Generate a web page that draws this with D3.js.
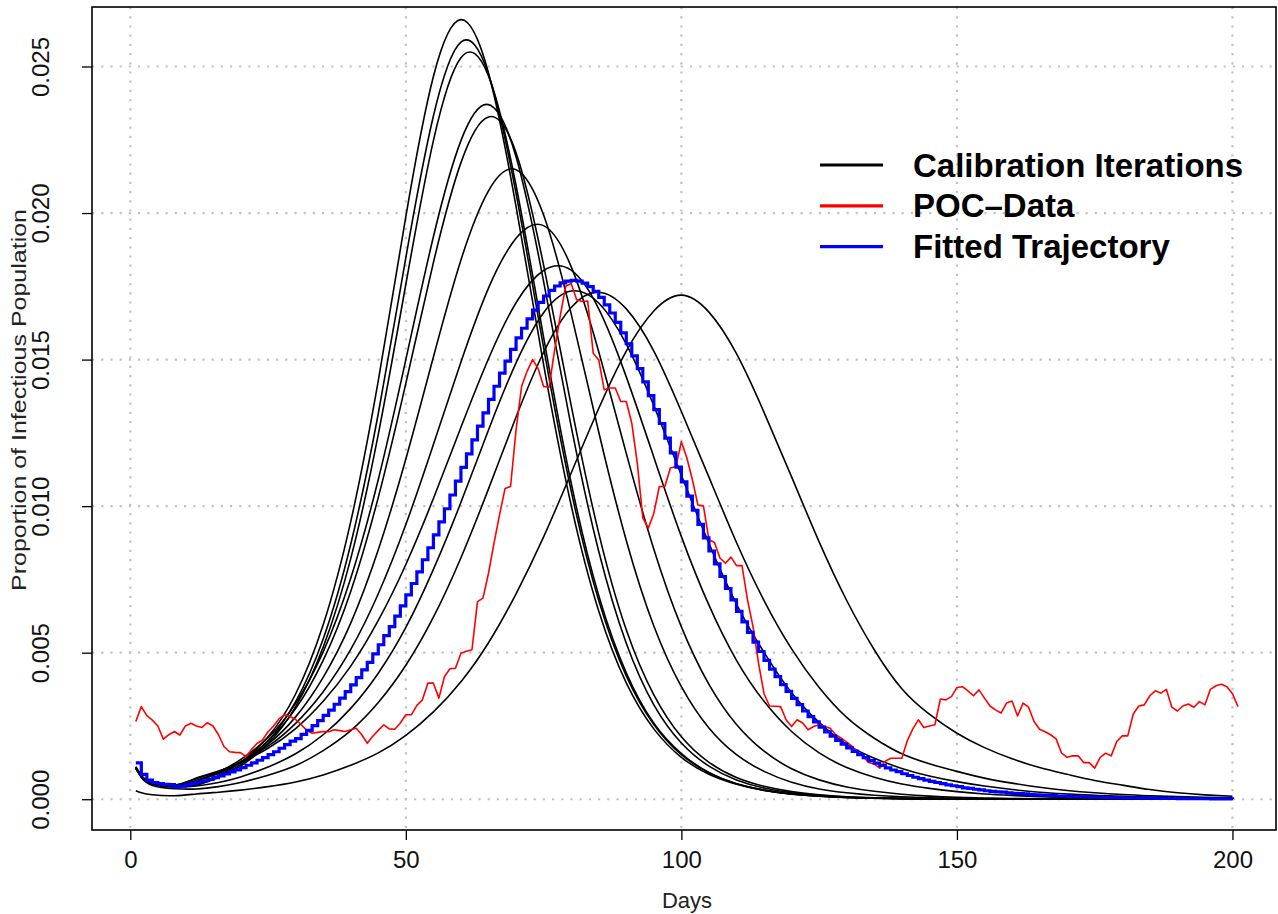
<!DOCTYPE html>
<html>
<head>
<meta charset="utf-8">
<script src="https://cdn.jsdelivr.net/npm/d3@7"></script>
<style>
  html, body { margin: 0; padding: 0; background: #fff; }
  svg text { font-family: "Liberation Sans", Arial, Helvetica, sans-serif; }
</style>
</head>
<body>
<svg id="chart" width="1278" height="914"></svg>
<script>
// All curve values are in thousandths of the population (0.001).

// ── Calibration iterations (black), sampled on a shared day grid ─────────────
const calibDays = [1, 2, 4, 8, 12, 16, 20,
                   25, 30, 35, 40, 45, 50, 55, 60, 65, 70, 75, 80, 85, 90, 95, 100, 105, 110, 115, 120, 125, 130,
                   135, 140, 145, 150, 155, 160, 165, 170, 175, 180, 185, 190, 195, 200];

const iter01 = [1.10, 0.80, 0.55, 0.44, 0.53, 0.81, 1.25,
                2.13, 3.59, 5.95, 9.47, 14.28, 19.88, 24.66, 26.60, 24.78, 20.22, 14.83, 10.03, 6.42, 3.97, 2.40, 1.43, 0.85, 0.51, 0.30, 0.17, 0.10, 0.06,
                0.035, 0.02, 0.012, 0.007, 0.004, 0.002, 0.0015, 0.001, 0.0005, 0, 0, 0, 0, 0];
const iter02 = [1.06, 0.78, 0.54, 0.44, 0.50, 0.77, 1.18,
                1.99, 3.33, 5.47, 8.70, 13.16, 18.48, 23.31, 25.83, 24.73, 20.67, 15.41, 10.52, 6.78, 4.21, 2.55, 1.52, 0.90, 0.53, 0.31, 0.18, 0.11, 0.06,
                0.035, 0.02, 0.012, 0.007, 0.004, 0.002, 0.0015, 0.001, 0.0005, 0, 0, 0, 0, 0];
const iter03 = [1.05, 0.77, 0.53, 0.44, 0.49, 0.74, 1.13,
                1.90, 3.16, 5.19, 8.21, 12.45, 17.57, 22.47, 25.30, 24.68, 20.94, 15.76, 10.79, 6.95, 4.31, 2.59, 1.56, 0.91, 0.53, 0.31, 0.18, 0.10, 0.06,
                0.035, 0.02, 0.012, 0.007, 0.004, 0.002, 0.0015, 0.001, 0.0005, 0, 0, 0, 0, 0];
const iter04 = [1.08, 0.79, 0.54, 0.44, 0.63, 0.93, 1.35,
                2.10, 3.27, 5.03, 7.54, 10.91, 15.00, 19.19, 22.47, 23.70, 21.92, 17.66, 12.72, 8.46, 5.32, 3.22, 1.92, 1.13, 0.66, 0.38, 0.22, 0.13, 0.074,
                0.043, 0.025, 0.015, 0.009, 0.005, 0.003, 0.002, 0.001, 0.0005, 0, 0, 0, 0, 0];
const iter05 = [1.07, 0.78, 0.54, 0.44, 0.61, 0.88, 1.26,
                1.99, 3.09, 4.74, 7.09, 10.30, 14.19, 18.31, 21.72, 23.28, 22.06, 18.22, 13.44, 9.08, 5.78, 3.56, 2.13, 1.26, 0.74, 0.44, 0.26, 0.15, 0.086,
                0.05, 0.03, 0.017, 0.01, 0.0055, 0.003, 0.002, 0.001, 0.0005, 0, 0, 0, 0, 0];
const iter06 = [1.09, 0.80, 0.55, 0.46, 0.64, 0.89, 1.25,
                1.88, 2.81, 4.16, 6.01, 8.51, 11.61, 15.09, 18.40, 20.76, 21.48, 19.93, 16.56, 12.53, 8.83, 5.91, 3.84, 2.43, 1.52, 0.95, 0.58, 0.35, 0.22,
                0.135, 0.082, 0.05, 0.03, 0.018, 0.011, 0.0065, 0.004, 0.0025, 0.0015, 0.001, 0.0005, 0.0003, 0];
const iter07 = [1.10, 0.80, 0.55, 0.47, 0.70, 0.94, 1.28,
                1.81, 2.59, 3.67, 5.11, 7.01, 9.37, 12.10, 14.92, 17.44, 19.14, 19.57, 18.17, 15.27, 11.80, 8.53, 5.88, 3.92, 2.55, 1.64, 1.04, 0.66, 0.42,
                0.27, 0.17, 0.105, 0.065, 0.04, 0.025, 0.016, 0.01, 0.0063, 0.004, 0.0025, 0.0015, 0.001, 0.0006];
const iter08 = [1.10, 0.80, 0.56, 0.48, 0.72, 0.96, 1.25,
                1.74, 2.41, 3.34, 4.54, 6.10, 8.01, 10.26, 12.69, 15.03, 16.94, 18.04, 18.05, 16.73, 14.41, 11.67, 8.96, 6.62, 4.74, 3.34, 2.31, 1.58, 1.08,
                0.75, 0.52, 0.37, 0.26, 0.18, 0.13, 0.09, 0.06, 0.042, 0.03, 0.021, 0.015, 0.01, 0.007];
const iter09 = [1.08, 0.78, 0.52, 0.42, 0.45, 0.57, 0.76,
                1.10, 1.55, 2.20, 3.10, 4.30, 5.86, 7.84, 10.13, 12.60, 14.89, 16.60, 17.34, 16.93, 15.53, 13.43, 11.05, 8.73, 6.66, 5.01, 3.63, 2.62, 1.87,
                1.40, 1.05, 0.79, 0.60, 0.45, 0.33, 0.24, 0.18, 0.13, 0.10, 0.07, 0.05, 0.04, 0.03];
const iter10 = [1.05, 0.74, 0.47, 0.36, 0.35, 0.43, 0.57,
                0.82, 1.15, 1.66, 2.34, 3.30, 4.57, 6.21, 8.24, 10.59, 13.04, 15.25, 16.78, 17.30, 16.73, 15.29, 13.23, 10.99, 8.76, 6.78, 5.13, 3.81, 2.79,
                2.08, 1.55, 1.21, 0.95, 0.72, 0.55, 0.41, 0.30, 0.22, 0.16, 0.12, 0.09, 0.065, 0.05];
const iter11 = [0.29, 0.22, 0.15, 0.12, 0.18, 0.24, 0.31,
                0.43, 0.59, 0.83, 1.16, 1.58, 2.18, 2.98, 4.01, 5.34, 7.01, 8.95, 11.13, 13.33, 15.29, 16.66, 17.20, 16.62, 15.20, 13.20, 11.00, 8.78, 6.78,
                5.10, 3.77, 2.90, 2.25, 1.76, 1.38, 1.08, 0.85, 0.64, 0.48, 0.33, 0.22, 0.15, 0.10];

const calibIterations = [iter01, iter02, iter03, iter04, iter05, iter06, iter07, iter08, iter09, iter10, iter11];

// ── Fitted trajectory (blue step line), one value per day, days 1..200 ───────
const fittedTrajectory = [
  1.24, 0.85, 0.65, 0.57, 0.53, 0.51, 0.50, 0.42, 0.45, 0.49,
  0.53, 0.58, 0.63, 0.68, 0.74, 0.80, 0.86, 0.93, 1.00, 1.08,
  1.16, 1.24, 1.33, 1.42, 1.52, 1.62, 1.74, 1.86, 1.98, 2.07,
  2.21, 2.35, 2.51, 2.68, 2.86, 3.04, 3.24, 3.45, 3.67, 3.90,
  4.15, 4.41, 4.67, 4.96, 5.27, 5.58, 5.89, 6.25, 6.60, 6.97,
  7.36, 7.76, 8.17, 8.58, 9.02, 9.46, 9.91, 10.38, 10.85, 11.32,
  11.78, 12.26, 12.73, 13.18, 13.64, 14.09, 14.54, 14.95, 15.35, 15.74,
  16.07, 16.39, 16.69, 16.95, 17.17, 17.36, 17.51, 17.62, 17.68, 17.70,
  17.68, 17.61, 17.49, 17.33, 17.12, 16.87, 16.59, 16.27, 15.91, 15.54,
  15.13, 14.69, 14.24, 13.77, 13.29, 12.82, 12.32, 11.82, 11.33, 10.83,
  10.34, 9.86, 9.38, 8.92, 8.47, 8.03, 7.60, 7.19, 6.80, 6.41,
  6.05, 5.69, 5.36, 5.04, 4.74, 4.44, 4.18, 3.91, 3.68, 3.44,
  3.23, 3.01, 2.82, 2.64, 2.46, 2.30, 2.15, 2.01, 1.88, 1.75,
  1.63, 1.52, 1.42, 1.32, 1.23, 1.15, 1.07, 0.997, 0.94, 0.87,
  0.81, 0.75, 0.70, 0.65, 0.61, 0.57, 0.53, 0.49, 0.46, 0.43,
  0.39, 0.37, 0.34, 0.32, 0.29, 0.27, 0.25, 0.24, 0.22, 0.20,
  0.19, 0.18, 0.16, 0.15, 0.14, 0.13, 0.12, 0.11, 0.11, 0.10,
  0.09, 0.085, 0.08, 0.073, 0.068, 0.063, 0.059, 0.055, 0.051, 0.047,
  0.044, 0.041, 0.038, 0.035, 0.033, 0.031, 0.029, 0.027, 0.025, 0.023,
  0.021, 0.020, 0.018, 0.017, 0.016, 0.015, 0.014, 0.013, 0.012, 0.011
];

// ── POC data (red), one value per day, days 1..201 ──────────────────────────
const pocData = [
  2.65, 3.16, 2.85, 2.70, 2.50, 2.05, 2.20, 2.31, 2.19, 2.50,
  2.59, 2.50, 2.45, 2.61, 2.50, 2.20, 1.80, 1.62, 1.60, 1.59,
  1.45, 1.70, 1.90, 2.02, 2.30, 2.50, 2.75, 2.88, 2.82, 2.72,
  2.55, 2.35, 2.25, 2.28, 2.31, 2.30, 2.37, 2.34, 2.31, 2.37,
  2.42, 2.20, 1.91, 2.15, 2.35, 2.54, 2.40, 2.39, 2.60, 2.88,
  2.88, 3.20, 3.39, 3.96, 3.96, 3.45, 4.18, 4.45, 4.47, 4.98,
  5.05, 5.10, 6.74, 6.86, 7.71, 8.74, 9.70, 10.60, 10.67, 12.60,
  14.08, 14.60, 15.00, 14.70, 14.08, 14.06, 15.33, 16.47, 17.50, 17.60,
  17.04, 16.98, 17.00, 15.22, 14.99, 13.97, 14.03, 14.03, 13.57, 13.57,
  12.83, 11.47, 9.60, 9.25, 9.76, 10.67, 10.67, 11.30, 11.35, 12.20,
  11.64, 10.90, 10.04, 10.01, 8.85, 8.76, 8.23, 8.05, 8.26, 7.97,
  7.97, 6.80, 5.89, 4.64, 3.60, 3.18, 3.17, 3.16, 2.71, 2.48,
  2.71, 2.60, 2.37, 2.48, 2.54, 2.48, 2.42, 2.20, 2.08, 1.95,
  1.80, 1.60, 1.45, 1.25, 1.20, 1.06, 1.30, 1.40, 1.40, 1.40,
  2.00, 2.40, 2.71, 2.45, 2.50, 2.54, 3.42, 3.39, 3.50, 3.81,
  3.84, 3.70, 3.53, 3.73, 3.45, 3.18, 3.05, 2.94, 3.28, 3.35,
  2.84, 3.28, 3.14, 2.65, 2.39, 2.30, 2.20, 2.06, 1.57, 1.43,
  1.48, 1.48, 1.25, 1.25, 1.06, 1.43, 1.57, 1.48, 1.97, 2.16,
  2.16, 2.91, 3.18, 3.22, 3.53, 3.70, 3.62, 3.75, 3.14, 3.01,
  3.18, 3.25, 3.14, 3.33, 3.22, 3.75, 3.87, 3.92, 3.84, 3.60,
  3.16
];

const xTicks = [0, 50, 100, 150, 200];
const yTicks = [0, 0.005, 0.010, 0.015, 0.020, 0.025];

const legendItems = [
  { label: 'Calibration Iterations', color: '#000000' },
  { label: 'POC\u2013Data',           color: '#ff0000' },
  { label: 'Fitted Trajectory',      color: '#0000ff' },
];

// ── Layout (mimics R base graphics box) ─────────────────────────────────────
const BOX = { left: 92, right: 1276, top: 7, bottom: 830 };
const svg = d3.select('#chart');

const x = d3.scaleLinear().domain([-6.95, 207.9]).range([BOX.left, BOX.right]);
const y = d3.scaleLinear().domain([-0.00105, 0.02703]).range([BOX.bottom, BOX.top]);
const toProp = v => v / 1000;

svg.append('defs').append('clipPath').attr('id', 'plot-clip')
    .append('rect')
    .attr('x', BOX.left).attr('y', BOX.top)
    .attr('width', BOX.right - BOX.left).attr('height', BOX.bottom - BOX.top);

// dotted light-grey grid
const grid = svg.append('g')
    .attr('stroke', '#c2c2c2')
    .attr('stroke-width', 2.2)
    .attr('stroke-dasharray', '2.2 7');
grid.selectAll('.gx').data(xTicks).join('line').attr('class', 'gx')
    .attr('x1', d => x(d)).attr('x2', d => x(d))
    .attr('y1', BOX.top).attr('y2', BOX.bottom);
grid.selectAll('.gy').data(yTicks).join('line').attr('class', 'gy')
    .attr('x1', BOX.left).attr('x2', BOX.right)
    .attr('y1', d => y(d)).attr('y2', d => y(d));

const plot = svg.append('g').attr('clip-path', 'url(#plot-clip)');

// black calibration curves
const smooth = d3.line()
    .x(d => x(d[0]))
    .y(d => y(toProp(d[1])))
    .curve(d3.curveNatural);

plot.selectAll('.calib')
    .data(calibIterations)
    .join('path')
    .attr('class', 'calib')
    .attr('fill', 'none')
    .attr('stroke', '#000')
    .attr('stroke-width', 1.6)
    .attr('d', vals => smooth(vals.map((v, i) => [calibDays[i], v])));

// red POC data
const pocDays = d3.range(1, pocData.length + 1);
const straight = d3.line()
    .x(d => x(d[0]))
    .y(d => y(toProp(d[1])));
plot.append('path')
    .attr('fill', 'none')
    .attr('stroke', '#ff0000')
    .attr('stroke-width', 1.6)
    .attr('stroke-linejoin', 'round')
    .attr('d', straight(pocData.map((v, i) => [pocDays[i], v])));

// blue fitted trajectory, R type = "s"
const fitDays = d3.range(1, fittedTrajectory.length + 1);
const stepped = d3.line()
    .x(d => x(d[0]))
    .y(d => y(toProp(d[1])))
    .curve(d3.curveStepAfter);
plot.append('path')
    .attr('fill', 'none')
    .attr('stroke', '#0000ff')
    .attr('stroke-width', 3.2)
    .attr('d', stepped(fittedTrajectory.map((v, i) => [fitDays[i], v])));

// ── Axes ────────────────────────────────────────────────────────────────────
const gy = svg.append('g')
    .attr('transform', `translate(${BOX.left},0)`)
    .call(d3.axisLeft(y).tickValues(yTicks).tickFormat(d3.format('.3f')).tickSize(10));
gy.select('.domain').remove();
gy.attr('font-family', null).attr('font-size', null);
gy.selectAll('.tick line').attr('stroke', '#000').attr('stroke-width', 1.3);
gy.selectAll('.tick text')
    .attr('x', null).attr('dy', null)
    .attr('transform', 'translate(-43,0) rotate(-90)')
    .attr('text-anchor', 'middle')
    .attr('font-size', 24)
    .attr('fill', '#111');

const gx = svg.append('g')
    .attr('transform', `translate(0,${BOX.bottom})`)
    .call(d3.axisBottom(x).tickValues(xTicks).tickFormat(d3.format('d')).tickSize(10));
gx.select('.domain').remove();
gx.attr('font-family', null).attr('font-size', null);
gx.selectAll('.tick line').attr('stroke', '#000').attr('stroke-width', 1.3);
gx.selectAll('.tick text')
    .attr('y', 38).attr('dy', null)
    .attr('font-size', 24)
    .attr('fill', '#111');

// plot frame
svg.append('rect')
    .attr('x', BOX.left).attr('y', BOX.top)
    .attr('width', BOX.right - BOX.left).attr('height', BOX.bottom - BOX.top)
    .attr('fill', 'none').attr('stroke', '#000').attr('stroke-width', 1.6);

// titles
svg.append('text')
    .attr('x', 687).attr('y', 908)
    .attr('text-anchor', 'middle')
    .attr('font-size', 22).attr('fill', '#222')
    .text('Days');

svg.append('text')
    .attr('transform', 'translate(26,400) rotate(-90)')
    .attr('text-anchor', 'middle')
    .attr('font-size', 21).attr('fill', '#222')
    .attr('textLength', 382).attr('lengthAdjust', 'spacingAndGlyphs')
    .text('Proportion of Infectious Population');

// ── Legend ──────────────────────────────────────────────────────────────────
const legend = svg.append('g').attr('transform', 'translate(820,165)');
const rows = legend.selectAll('.lg')
    .data(legendItems)
    .join('g')
    .attr('class', 'lg')
    .attr('transform', (d, i) => `translate(0,${i * 40.8})`);
rows.append('line')
    .attr('x1', 0).attr('x2', 63)
    .attr('stroke', d => d.color)
    .attr('stroke-width', 3.2);
rows.append('text')
    .attr('x', 93).attr('y', 11.5)
    .attr('font-size', 33).attr('font-weight', 'bold')
    .attr('fill', '#000')
    .text(d => d.label);
</script>
</body>
</html>
